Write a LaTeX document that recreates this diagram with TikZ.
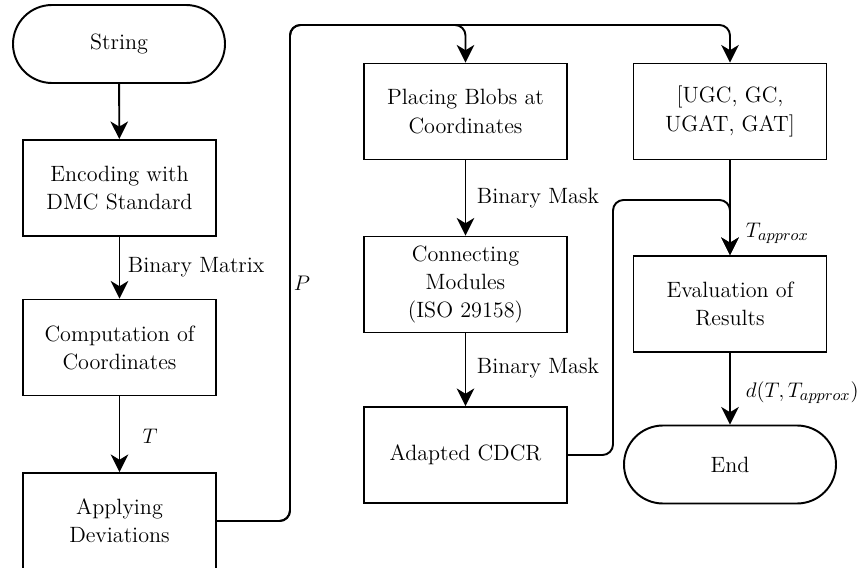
\documentclass[tikz,border=0pt]{standalone}
\usetikzlibrary{arrows.meta}

\begin{document}
\begin{tikzpicture}[>={Stealth[length=10pt,width=10pt,inset=3pt]},line width=1.1pt,
  every node/.style={font=\fontsize{12.6}{16}\selectfont},
  box/.style={draw,minimum width=3.86cm,minimum height=1.92cm,align=center,inner sep=2pt},
  widebox/.style={box,minimum width=4.06cm},
  term/.style={draw,rounded corners=0.78cm,minimum width=4.24cm,minimum height=1.56cm,align=center},
  flow/.style={->,rounded corners=6pt},
  lbl/.style={anchor=west,inner sep=0pt}]
  \useasboundingbox (0,0) rectangle (17.32,11.34);
  % left column
  \node[term] (string) at (2.38,10.46) {String};
  \node[box] (enc) at (2.39,7.58) {Encoding with\\DMC Standard};
  \node[box] (comp) at (2.39,4.39) {Computation of\\Coordinates};
  \node[box] (apply) at (2.39,0.92) {Applying\\Deviations};
  % middle column
  \node[widebox] (place) at (9.31,9.11) {Placing Blobs at\\Coordinates};
  \node[widebox] (conn) at (9.31,5.65) {Connecting\\Modules\\(ISO 29158)};
  \node[widebox] (cdcr) at (9.31,2.24) {Adapted CDCR};
  % right column
  \node[box] (ugc) at (14.6,9.11) {[UGC, GC,\\UGAT, GAT]};
  \node[box] (eval) at (14.6,5.26) {Evaluation of\\Results};
  \node[term] (end) at (14.6,2.05) {End};
  \coordinate (pturn) at (5.8,10.84);
  \coordinate (cturn) at (12.26,7.34);
  \draw[->] (string) -- (enc);
  \draw[->] (enc) -- (comp);
  \draw[->] (comp) -- (apply);
  \draw[flow] (apply.east) -| (pturn) -| (place.north);
  \draw[flow] (apply.east) -| (pturn) -| (ugc.north);
  \draw[->] (place) -- (conn);
  \draw[->] (conn) -- (cdcr);
  \draw[flow] (cdcr.east) -| (cturn) -| (eval.north);
  \draw[->] (ugc) -- (eval);
  \draw[->] (eval) -- (end);
  \node[lbl] (lbm) at (2.54,6.0) {Binary Matrix};
  \node (lt) at (3.0,2.62) {$T$};
  \node (lp) at (6.04,5.68) {$P$};
  \node[lbl] (lmask1) at (9.52,7.38) {Binary Mask};
  \node[lbl] (lmask2) at (9.52,3.98) {Binary Mask};
  \node[lbl] (lapprox) at (14.9,6.68) {$T_{approx}$};
  \node[lbl] (ldist) at (14.9,3.48) {$d(T,T_{approx})$};
\end{tikzpicture}
\end{document}
